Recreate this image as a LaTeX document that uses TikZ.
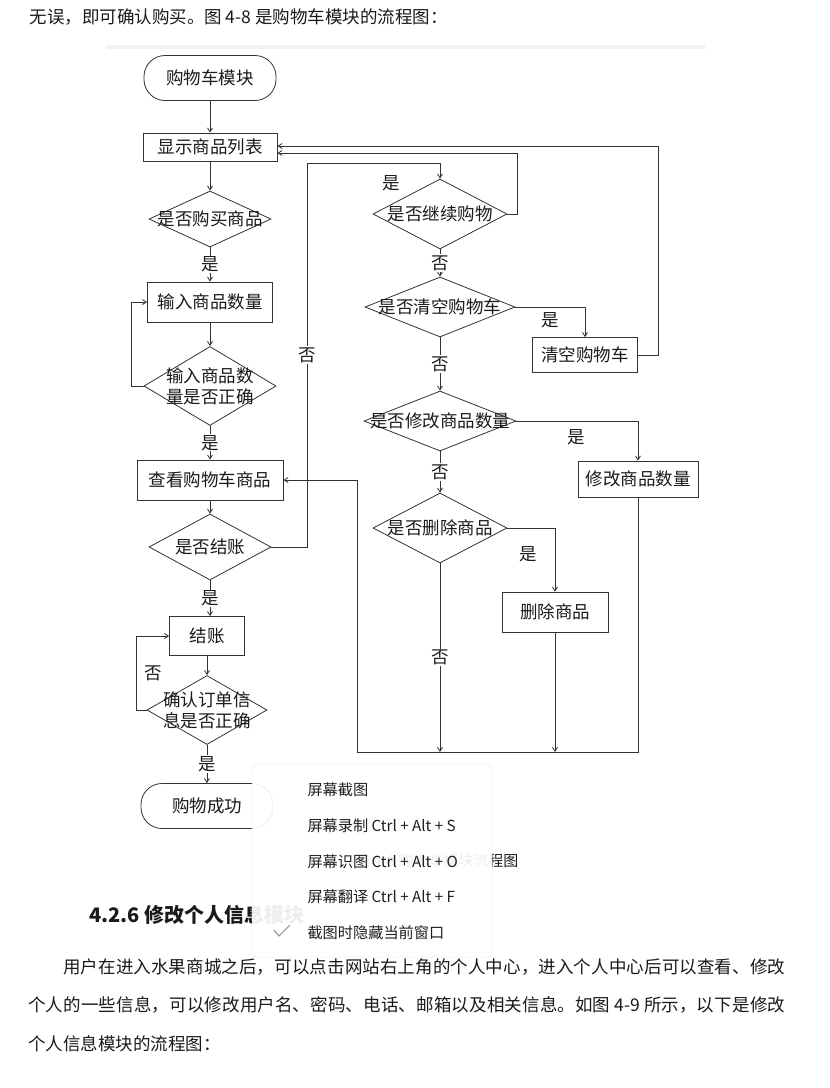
\documentclass[tikz,border=0pt]{standalone}
\usepackage{fontspec}
\setmainfont{Noto Sans CJK SC}
\usetikzlibrary{arrows.meta,shapes.geometric}
\XeTeXlinebreaklocale "zh"
\XeTeXlinebreakskip=0pt plus 2pt minus 0.6pt
\definecolor{Ink}{HTML}{1A1A1A}
\definecolor{Edge}{HTML}{333333}
\definecolor{Rule}{HTML}{F2F2F2}
\definecolor{MenuText}{HTML}{1F1F1F}
\definecolor{MenuLine}{HTML}{E4E4E4}
\definecolor{Tick}{HTML}{8C8C8C}
\begin{document}
\begin{tikzpicture}[x=1pt,y=-1pt,font=\fontsize{17.5}{21}\selectfont,text=Ink,terminal/.style={draw=Edge,line width=0.8pt,rounded corners=21pt,minimum width=132pt,minimum height=45pt},process/.style={draw=Edge,line width=0.8pt,inner sep=2pt},decision/.style={diamond,draw=Edge,line width=0.8pt,inner sep=0pt},lbl/.style={fill=white,inner sep=1pt},arrow/.style={-{Straight Barb[length=4pt,width=5pt]},draw=Edge,line width=0.8pt},item/.style={anchor=west,font=\fontsize{15.2}{18}\selectfont,text=MenuText}]
\fill[white] (0,0) rectangle (830,1088);
\useasboundingbox (0,0) rectangle (830,1088);
\node[anchor=west,font=\fontsize{17.5}{21}\selectfont] (intro) at (26,17) {无误，即可确认购买。图 4-8 是购物车模块的流程图：};
\fill[Rule] (107,45) rectangle (705,49);
\node[terminal] (start) at (210,78) {购物车模块};
\node[process,minimum width=134pt,minimum height=28pt] (list) at (210,147) {显示商品列表};
\node[decision,minimum width=122pt,minimum height=56pt,label={center:是否购买商品}] (buy) at (210,219) {};
\node[process,minimum width=125pt,minimum height=40pt] (qty) at (210,302) {输入商品数量};
\node[decision,minimum width=132pt,minimum height=79pt,label={[align=center]center:输入商品数\\量是否正确}] (qtyok) at (210,386) {};
\node[process,minimum width=146pt,minimum height=40pt] (view) at (210,480) {查看购物车商品};
\node[decision,minimum width=122pt,minimum height=66pt,label={center:是否结账}] (pay) at (210,547) {};
\node[process,minimum width=75pt,minimum height=39pt] (checkout) at (207,636) {结账};
\node[decision,minimum width=120pt,minimum height=69pt,label={[align=center]center:确认订单信\\息是否正确}] (orderok) at (207,710) {};
\node[terminal] (done) at (207,806) {购物成功};
\node[decision,minimum width=134pt,minimum height=70pt,label={center:是否继续购物}] (goon) at (440,214) {};
\node[decision,minimum width=150pt,minimum height=60pt,label={center:是否清空购物车}] (clear) at (440,307) {};
\node[process,minimum width=105pt,minimum height=35pt] (clearbox) at (585,355) {清空购物车};
\node[decision,minimum width=152pt,minimum height=60pt,label={center:是否修改商品数量}] (modq) at (440,421) {};
\node[process,minimum width=120pt,minimum height=36pt] (modbox) at (638,479) {修改商品数量};
\node[decision,minimum width=134pt,minimum height=70pt,label={center:是否删除商品}] (del) at (440,528) {};
\node[process,minimum width=106pt,minimum height=40pt] (delbox) at (555,612) {删除商品};
\coordinate (over) at (307,163);
\coordinate (merge) at (357,752);
\draw[arrow] (start) -- (list);
\draw[arrow] (list) -- (buy);
\draw[arrow] (buy) -- node[lbl] (y1) {是} (qty);
\draw[arrow] (qty) -- (qtyok);
\draw[arrow] (qtyok.west) -- ++(-12,0) |- (qty.west);
\draw[arrow] (qtyok) -- node[lbl] (y2) {是} (view);
\draw[arrow] (view) -- (pay);
\draw[arrow] (pay.south) -- node[lbl] (y3) {是} (pay.south |- checkout.north);
\draw[arrow] (checkout) -- (orderok);
\draw[arrow] (orderok.west) -- ++(-10,0) |- node[pos=0.25,right=4pt] (n1) {否} (checkout.west);
\draw[arrow] (orderok) -- node[lbl] (y4) {是} (done);
\draw[arrow] (pay.east) -| node[pos=0.75,lbl] (n2) {否} (over) -| (goon.north);
\node (y5) at (391,183) {是};
\draw[arrow] (goon.east) -- ++(10,0) |- ([yshift=-6pt]list.east);
\draw[arrow] (goon) -- node[lbl] (n3) {否} (clear);
\draw[arrow] (clear.east) -| node[pos=0.25,below=2pt] (y6) {是} (clearbox.north);
\draw[arrow] (clearbox.east) -- ++(20,0) |- ([yshift=1pt]list.east);
\draw[arrow] (clear) -- node[lbl] (n4) {否} (modq);
\draw[arrow] (modq.east) -| node[pos=0.245,below=5pt] (y7) {是} (modbox.north);
\draw[arrow] (modq) -- node[lbl] (n5) {否} (del);
\draw[arrow] (del.east) -| node[pos=0.22,below=15pt] (y8) {是} (delbox.north);
\draw[arrow] (del.south) -- node[lbl] (n6) {否} (del.south |- merge);
\draw[arrow] (delbox.south) -- (delbox.south |- merge);
\draw[arrow] (modbox.south) |- (merge) |- (view.east);
\node[anchor=east,font=\fontsize{15}{18}\selectfont] (caption) at (522,861) {图 4-8 购物车模块流程图};
\node[anchor=west,font=\fontsize{20}{24}\selectfont\bfseries] (section) at (86,915) {4.2.6 修改个人信息模块};
\node[anchor=north west,inner sep=0pt,text width=757pt,align=justify,font=\fontsize{17.5}{38.5}\selectfont] (para) at (28,958) {\hspace*{35pt}用户在进入水果商城之后，可以点击网站右上角的个人中心，进入个人中心后可以查看、修改\linebreak 个人的一些信息，可以修改用户名、密码、电话、邮箱以及相关信息。如图 4-9 所示，以下是修改\linebreak 个人信息模块的流程图：};
\node[draw=MenuLine,fill=white,fill opacity=0.92,rounded corners=4pt,minimum width=240pt,minimum height=193pt] (menu) at (372,860.5) {};
\node[item] (shot) at (304,790) {屏幕截图};
\node[item] (record) at (304,826) {屏幕录制 Ctrl + Alt + S};
\node[item] (ocr) at (304,862) {屏幕识图 Ctrl + Alt + O};
\node[item] (trans) at (304,897) {屏幕翻译 Ctrl + Alt + F};
\node[item] (hide) at (304,933) {截图时隐藏当前窗口};
\draw[Tick,line width=1pt] (274,930) -- (279,936) -- (290,925);
\end{tikzpicture}
\end{document}
